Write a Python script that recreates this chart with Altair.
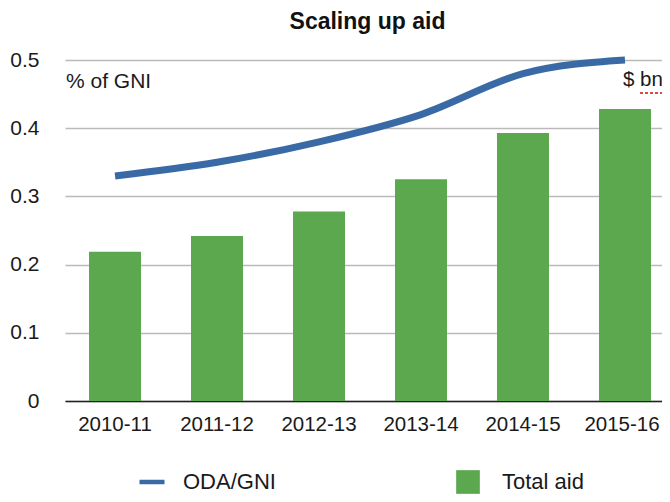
import altair as alt
import pandas as pd

categories = ["2010-11", "2011-12", "2012-13", "2013-14", "2014-15", "2015-16"]
oda_gni = [0.33, 0.35, 0.38, 0.42, 0.48, 0.50]
total_aid = [0.219, 0.242, 0.278, 0.325, 0.393, 0.428]
y_ticks = [0, 0.1, 0.2, 0.3, 0.4, 0.5]

FONT = "Liberation Sans"
GREEN = "#5ba84f"
BLUE = "#3a6aa6"
TEXT = "#1a1a1a"

df = pd.DataFrame({
    "period": categories,
    "oda": oda_gni,
    "aid": total_aid,
    "line_series": ["ODA/GNI"] * len(categories),
    "bar_series": ["Total aid"] * len(categories),
})

x_enc = alt.X(
    "period:N", sort=categories, title=None,
    scale=alt.Scale(paddingInner=0.49, paddingOuter=0.1716, align=0.686),
    axis=alt.Axis(labelAngle=0, labelFontSize=20.5, labelFont=FONT, labelColor=TEXT,
                  ticks=False, labelPadding=13, domainColor="#222222", domainWidth=1.5,
                  grid=False,
                  labelOffset={"condition": {"test": "datum.label == '2015-16'", "value": -3},
                               "value": 0}),
)
y_scale = alt.Scale(domain=[0, 0.5], nice=False)
y_axis = alt.Axis(values=y_ticks, format="~g", title=None, labelFontSize=21, labelFont=FONT,
                  labelColor=TEXT, ticks=False, domain=False, labelPadding=26,
                  gridColor="#bababa", gridWidth=1.5)

bars = alt.Chart(df).mark_bar().encode(
    x=x_enc,
    y=alt.Y("aid:Q", scale=y_scale, axis=y_axis),
    fill=alt.Fill("bar_series:N", scale=alt.Scale(domain=["Total aid"], range=[GREEN]),
                  legend=alt.Legend(orient="none", legendX=391, legendY=410, title=None,
                                    symbolType="square", symbolSize=560, symbolStrokeWidth=0,
                                    labelFontSize=22, labelFont=FONT, labelColor=TEXT,
                                    labelOffset=22, padding=0)),
)

line = alt.Chart(df).mark_line(interpolate="monotone", strokeWidth=7, strokeCap="butt").encode(
    x=x_enc,
    y=alt.Y("oda:Q", scale=y_scale, axis=y_axis),
    stroke=alt.Stroke("line_series:N", scale=alt.Scale(domain=["ODA/GNI"], range=[BLUE]),
                      legend=alt.Legend(orient="none", legendX=72, legendY=407, title=None,
                                        symbolType="stroke", symbolSize=625, symbolStrokeWidth=4.5,
                                        labelFontSize=22, labelFont=FONT, labelColor=TEXT,
                                        labelOffset=16, padding=0)),
)

one = pd.DataFrame({"t": ["% of GNI"]})
left_label = alt.Chart(one).mark_text(align="left", baseline="middle", fontSize=21, font=FONT,
                                      color=TEXT).encode(
    x=alt.value(1), y=alt.value(22), text="t:N")

two = pd.DataFrame({"t": ["$ bn"]})
right_label = alt.Chart(two).mark_text(align="left", baseline="middle", fontSize=20.5, font=FONT,
                                       color=TEXT).encode(
    x=alt.value(558), y=alt.value(20), text="t:N")

underline = alt.Chart(pd.DataFrame({"a": [0]})).mark_rule(
    color="#e04a40", strokeDash=[3, 2], strokeWidth=2).encode(
    x=alt.value(575), x2=alt.value(597), y=alt.value(33))

chart = alt.layer(bars, line, left_label, right_label, underline).properties(
    width=597, height=341,
    autosize=alt.AutoSizeParams(type="none"),
    padding={"left": 57, "top": 52, "right": 0, "bottom": 93},
    title=alt.TitleParams("Scaling up aid", fontSize=23, font=FONT, fontWeight="bold",
                          anchor="middle", offset=12, color="#111111", dx=4),
).resolve_legend(fill="independent", stroke="independent").configure_view(stroke=None)

chart.save("out.html", embed_options={"renderer": "svg", "actions": False})
